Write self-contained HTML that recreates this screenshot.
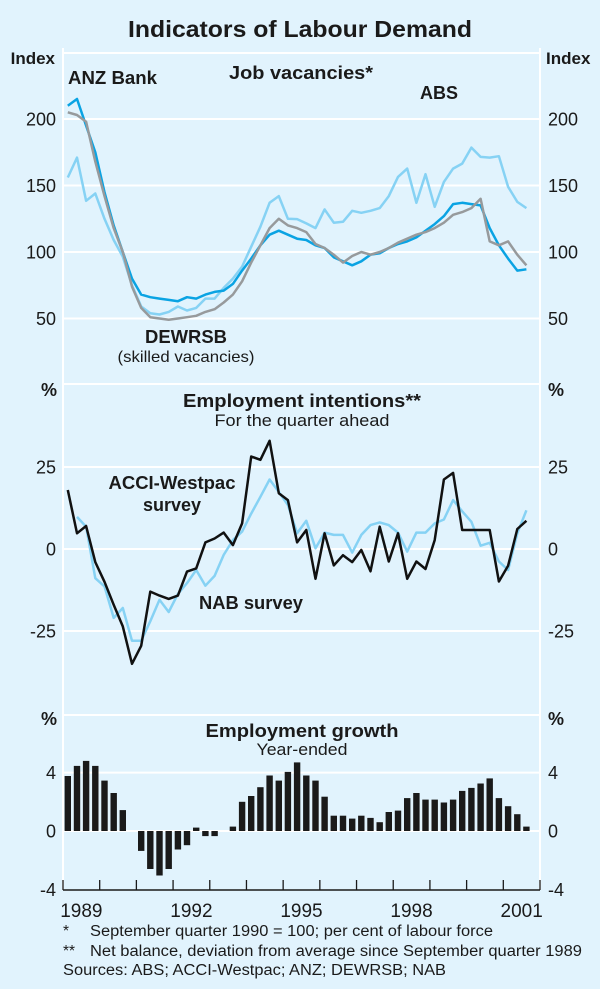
<!DOCTYPE html>
<html><head><meta charset="utf-8">
<style>
html,body{margin:0;padding:0;background:#e1f3fd;}
svg{display:block;font-family:"Liberation Sans",Arial,sans-serif;}
</style></head>
<body>
<svg id="chart" width="600" height="989" viewBox="0 0 600 989" xmlns="http://www.w3.org/2000/svg">
<rect x="0" y="0" width="600" height="989" fill="#e1f3fd"/>
<text x="300" y="37" text-anchor="middle" font-size="23" font-weight="bold" fill="#1a1a1a" textLength="344" lengthAdjust="spacingAndGlyphs">Indicators of Labour Demand</text>
<g id="grid"></g>
<g id="marks"></g>
<g id="labels" font-size="18" fill="#1a1a1a">
<text x="55" y="64" text-anchor="end" font-weight="bold" font-size="17">Index</text>
<text x="546" y="64" font-weight="bold" font-size="17">Index</text>
<text x="68" y="84" font-weight="bold" textLength="89" lengthAdjust="spacingAndGlyphs">ANZ Bank</text>
<text x="301" y="79" text-anchor="middle" font-weight="bold" textLength="144" lengthAdjust="spacingAndGlyphs">Job vacancies*</text>
<text x="420" y="99" font-weight="bold" textLength="38" lengthAdjust="spacingAndGlyphs">ABS</text>
<text x="186" y="343" text-anchor="middle" font-weight="bold" textLength="82" lengthAdjust="spacingAndGlyphs">DEWRSB</text>
<text x="186" y="362" text-anchor="middle" font-size="16" textLength="137" lengthAdjust="spacingAndGlyphs">(skilled vacancies)</text>
<text x="57" y="396" text-anchor="end" font-weight="bold">%</text>
<text x="548" y="396" font-weight="bold">%</text>
<text x="302" y="407" text-anchor="middle" font-weight="bold" textLength="238" lengthAdjust="spacingAndGlyphs">Employment intentions**</text>
<text x="302" y="426" text-anchor="middle" font-size="17" textLength="175" lengthAdjust="spacingAndGlyphs">For the quarter ahead</text>
<text x="172" y="489" text-anchor="middle" font-weight="bold" textLength="127" lengthAdjust="spacingAndGlyphs">ACCI-Westpac</text>
<text x="172" y="511" text-anchor="middle" font-weight="bold">survey</text>
<text x="251" y="609" text-anchor="middle" font-weight="bold" textLength="104" lengthAdjust="spacingAndGlyphs">NAB survey</text>
<text x="57" y="725" text-anchor="end" font-weight="bold">%</text>
<text x="548" y="725" font-weight="bold">%</text>
<text x="302" y="737" text-anchor="middle" font-weight="bold" textLength="193" lengthAdjust="spacingAndGlyphs">Employment growth</text>
<text x="302" y="755" text-anchor="middle" font-size="17" textLength="91" lengthAdjust="spacingAndGlyphs">Year-ended</text>
</g>
<g font-size="15.5" fill="#1a1a1a">
<text x="63" y="936">*</text>
<text x="90" y="936" textLength="403" lengthAdjust="spacingAndGlyphs">September quarter 1990 = 100; per cent of labour force</text>
<text x="63" y="956">**</text>
<text x="90" y="956" textLength="492" lengthAdjust="spacingAndGlyphs">Net balance, deviation from average since September quarter 1989</text>
<text x="63" y="975" textLength="383" lengthAdjust="spacingAndGlyphs">Sources: ABS; ACCI-Westpac; ANZ; DEWRSB; NAB</text>
</g>
</svg>
<script>
// ---- data ----
const years = [1989,1990,1991,1992,1993,1994,1995,1996,1997,1998,1999,2000,2001];
const yearLabels = ["1989","1992","1995","1998","2001"];
const idxTicks = [200,150,100,50];
const pctTicks = [25,0,-25];
const growthTicks = [4,0,-4];
// quarterly series, index 0 = March quarter 1989
const anz = [210,215,195,175,145,120,100,80,68,66,65,64,63,66,65,68,70,71,76,86,95,105,113,116,113,110,109,105,103,96,93,90,93,98,99,103,106,108,111,116,121,127,136,137,136,135,118,105,95,86,87];
const dewrsb = [205,203,198,168,142,118,100,74,58,51,50,49,50,51,52,55,57,62,68,78,92,105,118,125,120,118,115,106,103,98,92,97,100,98,100,103,107,110,113,115,118,122,128,130,133,140,108,105,108,98,90];
const abs = [156,171,138.5,144,125,109,96.5,75,59,54,53,55,59,56,58,65,65,73,80,89,104,119,137,142,125,124.7,121.5,118,132,122,122.7,131,129.5,131,133,142,156.5,162.7,137,158.5,134,152.7,162.7,166.5,178.5,171.5,171,172,149,137.7,133];
const acci = [18,4.8,7,-4,-10,-17,-23.6,-35,-29.5,-13,-14.2,-15.2,-14.2,-6.9,-5.9,2,3.2,5,1.2,7.8,28.2,27.2,33,17,14.9,2,5.8,-9.1,4.8,-5,-1.9,-4,-0.3,-6.8,6.8,-3.8,4.8,-9.1,-3.8,-6.1,2.7,21.2,23.2,5.8,5.8,5.8,5.8,-9.9,-5.1,6.1,8.6];
const nab = [null,9.8,6.8,-8.9,-11.4,-21,-18,-28,-28,-22,-15.5,-19.2,-13.7,-10.4,-6.4,-11.2,-8.2,-1.8,2.7,5.3,10.8,15.9,21.2,17.4,13.4,4.8,8.6,0.2,5,4.3,4.3,-1.1,4.3,7.3,8.1,7.3,5,-0.8,5,5,7.8,9,14.9,11.5,8.3,1,1.9,-3.8,-6.4,4.8,11.8];
const growth = [3.77,4.46,4.8,4.46,3.45,2.6,1.43,0,-1.36,-2.6,-3.05,-2.6,-1.27,-0.97,0.23,-0.35,-0.35,0,0.3,2.0,2.4,3.0,3.8,3.45,4.05,4.7,3.8,3.45,2.35,1.05,1.05,0.85,1.05,0.9,0.6,1.3,1.4,2.25,2.6,2.15,2.15,1.95,2.15,2.75,2.95,3.25,3.6,2.25,1.7,1.15,0.3];

// ---- scales ----
const X0 = 63, X1 = 540;
const xYear = t => X0 + (t - 1989) * (X1 - X0) / 13;
const xQ = i => xYear(1989 + (i + 0.5) / 4) + 0.2;
const yIdx = v => 252 - (v - 100) * 1.33;
const yPct = v => 549 - v * 3.28;
const yGr = v => 831 - v * 14.6;

const NS = "http://www.w3.org/2000/svg";
const grid = document.getElementById('grid');
const marks = document.getElementById('marks');
const svg = document.getElementById('chart');
function mk(tag, attrs, parent) {
  const e = document.createElementNS(NS, tag);
  for (const k in attrs) e.setAttribute(k, attrs[k]);
  parent.appendChild(e);
  return e;
}
function txt(x, y, s, anchor, parent) {
  const t = mk('text', {x: x, y: y, 'text-anchor': anchor, 'font-size': 18, fill: '#1a1a1a'}, parent);
  t.textContent = s;
  return t;
}

let vl = mk('line', {x1: X0, y1: 48, x2: X0, y2: 890, stroke: '#fff', 'stroke-width': 2}, grid);


let vr = mk('line', {x1: X1, y1: 48, x2: X1, y2: 890, stroke: '#fff', 'stroke-width': 2}, grid);


[53, 384, 715].forEach((y, k) => {
  const l = mk('line', {x1: X0, y1: y, x2: X1, y2: y, stroke: '#fff', 'stroke-width': 2}, grid);
  
  
});

function ticks(vals, scale, name) {
  vals.forEach(v => {
    const y = scale(v);
    const l = mk('line', {x1: X0, y1: y, x2: X1, y2: y, stroke: '#fff', 'stroke-width': 2}, grid);
    
    
    const a = txt(56, y + 6.5, String(v), 'end', svg);
    
    
    const b = txt(548, y + 6.5, String(v), 'start', svg);
    
    
  });
}
ticks(idxTicks, yIdx, 'index');
ticks(pctTicks, yPct, 'intentions');
ticks(growthTicks.filter(v => v !== -4), yGr, 'growth');
const m4a = txt(56, yGr(-4) + 6.5, '-4', 'end', svg);


const m4b = txt(548, yGr(-4) + 6.5, '-4', 'start', svg);



const ax = mk('line', {x1: X0, y1: 890, x2: X1, y2: 890, stroke: '#1a1a1a', 'stroke-width': 1.5}, grid);


years.concat([2002]).forEach(yr => {
  const x = xYear(yr);
  const t = mk('line', {x1: x, y1: 880, x2: x, y2: 890, stroke: '#1a1a1a', 'stroke-width': 1.3}, grid);
  
  
});
yearLabels.forEach(s => {
  const yr = +s;
  const t = txt(xYear(yr + 0.5), 917, s, 'middle', svg);
  t.setAttribute('font-size', 19);
  
  
});

function line(arr, yScale, color, w, name) {
  let d = '';
  let pen = false;
  arr.forEach((v, i) => {
    if (v === null) { pen = false; return; }
    d += (pen ? 'L' : 'M') + xQ(i).toFixed(1) + ',' + yScale(v).toFixed(1);
    pen = true;
  });
  const p = mk('path', {d: d, fill: 'none', stroke: color, 'stroke-width': w, 'stroke-linejoin': 'round'}, marks);
  
  
}
line(abs, yIdx, '#86d2f4', 2.5, 'abs-vacancies-line');
line(anz, yIdx, '#0aa3e3', 2.5, 'anz-vacancies-line');
line(dewrsb, yIdx, '#979a9c', 2.5, 'dewrsb-vacancies-line');
line(nab, yPct, '#86d2f4', 2.5, 'nab-survey-line');
line(acci, yPct, '#111', 2.5, 'acci-westpac-line');

growth.forEach((v, i) => {
  if (v === 0) return;
  const cx = xQ(i);
  const y0 = yGr(0), y1 = yGr(v);
  const r = mk('rect', {x: (cx - 3.2).toFixed(1), y: Math.min(y0, y1).toFixed(1), width: 6.4, height: Math.abs(y1 - y0).toFixed(1), fill: '#1a1a1a'}, marks);
  
  
});
</script>
</body></html>
